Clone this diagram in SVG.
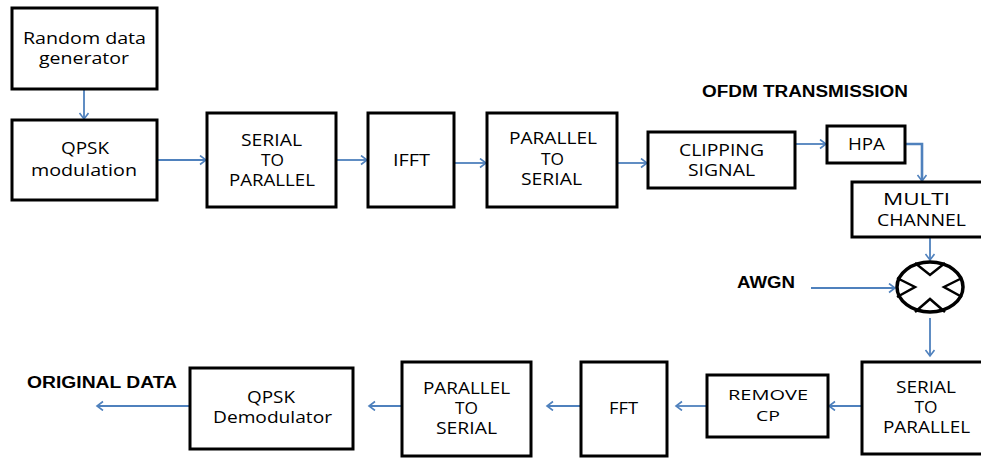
<svg xmlns="http://www.w3.org/2000/svg" width="981" height="458" viewBox="0 0 981 458">
<style>
.box{fill:#fff;stroke:#000;stroke-width:3}
.t{font-family:"Open Sans","Liberation Sans",sans-serif;font-size:16px;fill:#000;text-anchor:middle}
.b{font-family:"Liberation Sans","Open Sans",sans-serif;font-size:16px;font-weight:bold;fill:#000}
.c{fill:none;stroke:#4F81BD;stroke-width:1.8;marker-end:url(#ah)}
</style>
<defs>
<marker id="ah" markerUnits="userSpaceOnUse" markerWidth="10" markerHeight="12" refX="7" refY="5" orient="auto">
<path d="M1,0.5 L7,5 L1,9.5" fill="none" stroke="#4F81BD" stroke-width="1.6"/>
</marker>
</defs>
<rect width="981" height="458" fill="#fff"/>
<g id="connectors">
<path class="c" d="M84,89 V119"/>
<path class="c" d="M157,160 H206"/>
<path class="c" d="M336,160 H367"/>
<path class="c" d="M454,163 H486"/>
<path class="c" d="M617,163 H647"/>
<path class="c" d="M795,144 H826"/>
<path class="c" style="stroke-width:2.6" d="M905,144 H922 V181"/>
<path class="c" d="M930,237 V260"/>
<path class="c" d="M811,288 H895"/>
<path class="c" d="M930,318 V356"/>
<path class="c" d="M862,406 H829"/>
<path class="c" d="M707,406 H676"/>
<path class="c" d="M581,406 H547"/>
<path class="c" d="M402,406 H369"/>
<path class="c" d="M190,406 H97"/>
</g>
<g id="random">
<rect class="box" x="12" y="8" width="145" height="81"/>
<text class="t" x="84.5" y="44" textLength="123" lengthAdjust="spacingAndGlyphs">Random data</text>
<text class="t" x="84" y="64" textLength="90" lengthAdjust="spacingAndGlyphs">generator</text>
</g>
<g id="qpsk_mod">
<rect class="box" x="12" y="120" width="145" height="80"/>
<text class="t" x="85" y="154" textLength="48" lengthAdjust="spacingAndGlyphs">QPSK</text>
<text class="t" x="84" y="176" textLength="106" lengthAdjust="spacingAndGlyphs">modulation</text>
</g>
<g id="s2p_tx">
<rect class="box" x="207" y="113" width="129" height="94"/>
<text class="t" x="271.5" y="146" textLength="61" lengthAdjust="spacingAndGlyphs">SERIAL</text>
<text class="t" x="272.5" y="166" textLength="23" lengthAdjust="spacingAndGlyphs">TO</text>
<text class="t" x="272" y="186" textLength="86" lengthAdjust="spacingAndGlyphs">PARALLEL</text>
</g>
<g id="ifft">
<rect class="box" x="368" y="113" width="86" height="94"/>
<text class="t" x="411.5" y="166" textLength="37" lengthAdjust="spacingAndGlyphs">IFFT</text>
</g>
<g id="p2s_tx">
<rect class="box" x="487" y="113" width="130" height="94"/>
<text class="t" x="553" y="144" textLength="88" lengthAdjust="spacingAndGlyphs">PARALLEL</text>
<text class="t" x="552.5" y="165" textLength="23" lengthAdjust="spacingAndGlyphs">TO</text>
<text class="t" x="551.5" y="185" textLength="61" lengthAdjust="spacingAndGlyphs">SERIAL</text>
</g>
<g id="clipping">
<rect class="box" x="648" y="132" width="147" height="56"/>
<text class="t" x="721.5" y="156" textLength="85" lengthAdjust="spacingAndGlyphs">CLIPPING</text>
<text class="t" x="721.5" y="176" textLength="67" lengthAdjust="spacingAndGlyphs">SIGNAL</text>
</g>
<g id="hpa">
<rect class="box" x="827" y="126" width="78" height="37"/>
<text class="t" x="866.5" y="150" textLength="37" lengthAdjust="spacingAndGlyphs">HPA</text>
</g>
<g id="multichannel">
<rect class="box" x="852" y="182" width="135" height="55"/>
<text class="t" x="916.5" y="205" textLength="67" lengthAdjust="spacingAndGlyphs">MULTI</text>
<text class="t" x="921.5" y="226" textLength="89" lengthAdjust="spacingAndGlyphs">CHANNEL</text>
</g>
<g id="title">
<text class="b" x="702" y="97" textLength="206" lengthAdjust="spacingAndGlyphs">OFDM TRANSMISSION</text>
</g>
<g id="awgn">
<text class="b" x="737" y="288" textLength="58" lengthAdjust="spacingAndGlyphs">AWGN</text>
</g>
<g id="mixer">
<ellipse cx="930" cy="287" rx="33" ry="25" fill="#fff" stroke="#000" stroke-width="3.5"/>
<path d="M915,263 L930,275 L945,263 M897,278 L915,287 L897,297 M962,278 L944,287 L962,297 M915,312 L930,299 L945,312" fill="none" stroke="#000" stroke-width="2.5"/>
</g>
<g id="s2p_rx">
<rect class="box" x="862" y="362" width="125" height="92"/>
<text class="t" x="926" y="393" textLength="60" lengthAdjust="spacingAndGlyphs">SERIAL</text>
<text class="t" x="926" y="413" textLength="23" lengthAdjust="spacingAndGlyphs">TO</text>
<text class="t" x="926.5" y="433" textLength="87" lengthAdjust="spacingAndGlyphs">PARALLEL</text>
</g>
<g id="removecp">
<rect class="box" x="707" y="375" width="121" height="62"/>
<text class="t" style="font-size:15px" x="768" y="400" textLength="80" lengthAdjust="spacingAndGlyphs">REMOVE</text>
<text class="t" style="font-size:15px" x="768" y="421" textLength="24" lengthAdjust="spacingAndGlyphs">CP</text>
</g>
<g id="fft">
<rect class="box" x="581" y="362" width="86" height="94"/>
<text class="t" x="623.5" y="414" textLength="29" lengthAdjust="spacingAndGlyphs">FFT</text>
</g>
<g id="p2s_rx">
<rect class="box" x="402" y="362" width="129" height="94"/>
<text class="t" x="466.5" y="394" textLength="87" lengthAdjust="spacingAndGlyphs">PARALLEL</text>
<text class="t" x="466.5" y="414" textLength="23" lengthAdjust="spacingAndGlyphs">TO</text>
<text class="t" x="466.5" y="434" textLength="61" lengthAdjust="spacingAndGlyphs">SERIAL</text>
</g>
<g id="qpsk_demod">
<rect class="box" x="190" y="368" width="163" height="81"/>
<text class="t" x="271" y="403" textLength="48" lengthAdjust="spacingAndGlyphs">QPSK</text>
<text class="t" x="272.5" y="423" textLength="119" lengthAdjust="spacingAndGlyphs">Demodulator</text>
</g>
<g id="original">
<text class="b" x="27" y="388" textLength="150" lengthAdjust="spacingAndGlyphs">ORIGINAL DATA</text>
</g>
</svg>
